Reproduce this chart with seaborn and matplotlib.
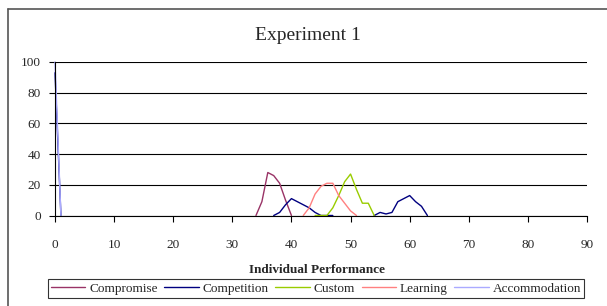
import matplotlib
matplotlib.use("Agg")
import matplotlib.pyplot as plt
import seaborn as sns
import pandas as pd
from matplotlib.lines import Line2D
from matplotlib.patches import Rectangle

# ----------------------------------------------
# Data
# ----------------------------------------------
SERIES = ["Compromise", "Competition", "Custom", "Learning", "Accommodation"]
COLORS = ["#993366", "#000080", "#99CC00", "#FF8080", "#AAAAFF"]

compromise_x = [34, 35, 36, 37, 38, 39, 40]
compromise_y = [0, 9, 28, 26, 21, 10, 0]

# competition has gaps, so it is kept in runs
competition_x1 = [0, 1]
competition_y1 = [93, 0]
competition_x2 = [37, 38, 39, 40, 41, 42, 43, 44, 45, 46, 47]
competition_y2 = [0, 2, 7, 11, 9, 7, 5, 2, 0, 0, 0]
competition_x3 = [54, 55, 56, 57, 58, 59, 60, 61, 62, 63]
competition_y3 = [0, 2, 1, 2, 9, 11, 13, 9, 6, 0]

custom_x = [44, 45, 46, 47, 48, 49, 50, 51, 52, 53, 54]
custom_y = [0, 0, 0, 5, 13, 22, 27, 17, 8, 8, 0]

learning_x = [42, 43, 44, 45, 46, 47, 48, 49, 50, 51]
learning_y = [0, 5, 14, 19, 21, 21, 13, 8, 3, 0]

accommodation_x = [0, 1]
accommodation_y = [100, 0]

X_TICKS = list(range(0, 91, 10))
Y_TICKS = list(range(0, 101, 20))

runs = [
    ("Compromise", compromise_x, compromise_y),
    ("Competition", competition_x1, competition_y1),
    ("Competition", competition_x2, competition_y2),
    ("Competition", competition_x3, competition_y3),
    ("Custom", custom_x, custom_y),
    ("Learning", learning_x, learning_y),
    ("Accommodation", accommodation_x, accommodation_y),
]
frames = []
for i, (name, xs, ys) in enumerate(runs):
    frames.append(pd.DataFrame({"x": xs, "y": ys, "series": name, "run": i}))
df = pd.concat(frames, ignore_index=True)

sns.set_style("white")
plt.rcParams["font.family"] = ["Liberation Serif", "DejaVu Serif"]

W, H = 607, 306
fig = plt.figure(figsize=(W / 100, H / 100), dpi=100)
ax = fig.add_axes([55 / W, 1 - 215.5 / H, 532 / W, 153.5 / H])

sns.lineplot(
    data=df, x="x", y="y", hue="series", units="run", estimator=None,
    hue_order=SERIES, palette=dict(zip(SERIES, COLORS)), sort=False,
    legend=False, lw=1.0, ax=ax, clip_on=False,
)

ax.set_xlim(0, 90)
ax.set_ylim(0, 100)
ax.set_xticks(X_TICKS)
ax.set_yticks(Y_TICKS)
ax.yaxis.grid(True, color="black", lw=0.8)
ax.xaxis.grid(False)
ax.set_axisbelow(True)
for side in ["top", "right"]:
    ax.spines[side].set_visible(False)
for side in ["left", "bottom"]:
    ax.spines[side].set_color("black")
    ax.spines[side].set_linewidth(0.8)
ax.tick_params(axis="x", direction="out", length=4, width=0.8, color="black",
               pad=13, labelsize=9.5, bottom=True)
ax.tick_params(axis="y", direction="out", length=4, width=0.8, color="black",
               pad=6, labelsize=9.5, left=True)
ax.set_xlabel("")
ax.set_ylabel("")

fig.text(308 / W, 1 - 35 / H, "Experiment 1", ha="center", va="center", fontsize=14)
fig.text(317 / W, 1 - 270 / H, "Individual Performance", ha="center", va="center",
         fontsize=9.5, fontweight="bold")

handles = [Line2D([], [], color=c, lw=1.0) for c in COLORS]
leg = fig.legend(handles, SERIES, loc="center", bbox_to_anchor=(316 / W, 1 - 288.5 / H),
                 ncol=5, fontsize=9.5, frameon=True, fancybox=False, handlelength=2.6,
                 handletextpad=0.3, columnspacing=0.5, borderpad=0.25, borderaxespad=0)
leg.get_frame().set_edgecolor("black")
leg.get_frame().set_linewidth(0.8)

# outer chart border (left and top visible in the crop)
fig.add_artist(Line2D([7.5 / W, 7.5 / W], [0, 1 - 8.5 / H], color="#555555", lw=1.2,
                      transform=fig.transFigure))
fig.add_artist(Line2D([7.5 / W, 1], [1 - 8.5 / H, 1 - 8.5 / H], color="#555555", lw=1.2,
                      transform=fig.transFigure))

fig.savefig("out.png", dpi=100)
plt.close(fig)
